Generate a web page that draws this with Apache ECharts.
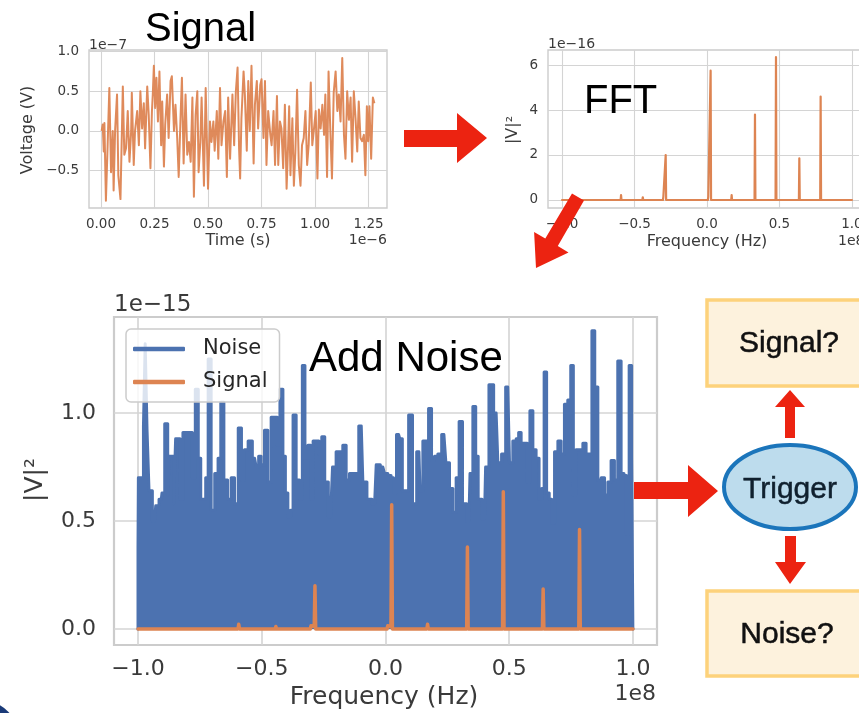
<!DOCTYPE html>
<html>
<head>
<meta charset="utf-8">
<script src="https://cdn.jsdelivr.net/npm/echarts@6/dist/echarts.min.js"></script>
<style>
html,body{margin:0;padding:0;background:#fff;}
#c{width:859px;height:713px;}
</style>
</head>
<body>
<div id="c"></div>
<script>
// ---- Time-domain signal (t in 1e-6 s, V in 1e-7 V) ----
const sigTime = [0.003,0.008,0.013,0.016,0.023,0.031,0.039,0.047,0.055,0.059,0.066,0.075,0.081,0.091,0.102,0.109,0.117,0.125,0.133,0.141,0.144,0.153,0.159,0.169,0.177,0.184,0.192,0.200,0.206,0.216,0.223,0.231,0.238,0.242,0.247,0.253,0.259,0.266,0.273,0.281,0.286,0.294,0.300,0.309,0.316,0.325,0.331,0.341,0.348,0.356,0.363,0.372,0.378,0.386,
0.395,0.403,0.411,0.419,0.427,0.434,0.442,0.450,0.456,0.464,0.470,0.481,0.489,0.500,0.509,0.516,0.525,0.531,0.541,0.548,0.556,0.563,0.572,0.580,0.588,0.594,0.603,0.614,0.622,0.630,0.638,0.645,0.650,0.656,0.666,0.672,0.681,0.688,0.695,0.703,0.713,0.719,0.728,0.734,0.744,0.750,0.759,0.766,0.773,0.781,0.791,0.797,0.806,0.813,0.822,
0.828,0.836,0.843,0.851,0.859,0.867,0.874,0.879,0.885,0.894,0.901,0.908,0.916,0.924,0.932,0.939,0.947,0.955,0.963,0.970,0.980,0.987,0.995,1.003,1.011,1.018,1.026,1.034,1.042,1.048,1.056,1.063,1.071,1.079,1.087,1.096,1.104,1.111,1.119,1.127,1.135,1.142,1.150,1.158,1.166,1.173,1.181,1.189,1.197,1.204,1.212,1.220,1.228,1.235,1.242,1.248,1.254,1.262,1.270,1.277];
const sigVolt = [0,0.08,-0.26,0.10,-0.88,-0.18,0.54,-0.52,0,-0.75,0.01,0.46,-0.56,-0.86,0.56,-0.30,-0.22,0.25,-0.39,0,0.48,-0.43,0,0.25,-0.18,0.50,0.03,0.35,-0.22,0.56,0.20,-0.47,0.25,0.46,0.82,0.29,0.67,0.12,0.75,-0.18,0.37,-0.45,0.08,0.46,-0.09,0.63,0.69,0,0.33,-0.09,-0.58,0.20,0.67,-0.41,
0.46,-0.30,-0.14,-0.39,0.42,-0.83,0.20,0.50,-0.52,-0.14,0.42,-0.69,0.54,-0.73,0.12,-0.14,0.12,-0.25,0.25,-0.35,0.54,-0.18,0.12,0.25,-0.58,0.42,-0.35,0.46,-0.18,0.50,0.80,-0.22,-0.60,0.16,0.75,0.46,-0.25,0.63,0,0.82,-0.41,0.33,0.63,0.03,0.58,0.65,-0.09,0.63,-0.43,0.25,-0.05,-0.18,0.25,-0.43,0.44,
-0.43,0.12,0.03,-0.47,0.33,-0.73,-0.18,0.31,-0.56,0.16,-0.69,-0.26,0.52,-0.43,-0.69,-0.18,-0.09,0.25,-0.43,-0.18,0.61,-0.18,0.03,0.25,-0.60,0.27,0.03,0.33,-0.05,0.46,-0.58,0.75,0.03,-0.60,0.48,0.75,0.25,0.46,0.12,0.92,-0.05,-0.35,0.50,0.14,0.42,-0.39,0.50,0.16,-0.26,0.37,-0.09,-0.13,-0.05,-0.56,0.31,-0.13,0.31,-0.35,0.42,0.35];

// ---- FFT of signal (freq in 1e8 Hz, |V|^2 in 1e-16) ----
const fftFreq = [-1.0,-0.753,-0.75,-0.747,-0.596,-0.593,-0.590,-0.446,-0.443,-0.440,-0.304,-0.301,-0.293,-0.288,-0.285,-0.282,-0.143,-0.14,-0.137,0.006,0.009,0.017,0.022,0.025,0.028,0.167,0.17,0.173,0.328,0.331,0.334,0.473,0.476,0.479,0.634,0.637,0.640,0.781,0.784,0.787,0.857,0.86,0.863,1.0];
const fftPower = [0,0,0.05,0,0,0.22,0,0,0.12,0,0,0.15,0.12,0.12,2.0,0,0,0.08,0,0,0.15,0.10,0.10,5.75,0,0,0.22,0,0,3.8,0,0,6.35,0,0,1.85,0,0,4.6,0,0,0.03,0,0];

// ---- Noise spectrum upper envelope (freq in 1e8 Hz, |V|^2 in 1e-15) ----
const noiseFreq = [-1.0,-1.0,-0.997,-0.981,-0.975,-0.967,-0.960,-0.951,-0.933,-0.924,-0.906,-0.900,-0.884,-0.876,-0.870,-0.859,-0.853,-0.843,-0.835,-0.825,-0.812,-0.799,-0.785,-0.776,-0.761,-0.752,-0.741,-0.731,-0.722,-0.711,-0.698,-0.682,-0.671,-0.660,-0.646,-0.630,-0.617,-0.603,-0.587,-0.577,-0.563,-0.547,-0.529,-0.516,
-0.509,-0.496,-0.482,-0.469,-0.455,-0.442,-0.432,-0.421,-0.408,-0.401,-0.388,-0.379,-0.368,-0.354,-0.341,-0.331,-0.320,-0.307,-0.298,-0.287,-0.274,-0.264,-0.251,-0.240,-0.222,-0.206,-0.193,-0.179,-0.166,-0.152,-0.139,-0.118,-0.098,-0.085,-0.065,-0.044,-0.031,-0.011,
0.003,0.016,0.029,0.036,0.053,0.063,0.073,0.086,0.101,0.117,0.135,0.144,0.158,0.167,0.181,0.191,0.205,0.218,0.236,0.252,0.265,0.279,0.292,0.303,0.319,0.337,0.346,0.360,0.369,0.380,0.400,0.409,0.427,0.447,0.461,0.477,0.494,
0.508,0.521,0.535,0.541,0.555,0.568,0.578,0.589,0.602,0.615,0.626,0.636,0.646,0.656,0.667,0.676,0.690,0.703,0.716,0.730,0.743,0.754,0.764,0.775,0.791,0.804,0.817,0.828,0.840,0.851,0.865,0.878,0.892,0.905,0.918,0.932,0.945,0.959,0.968,0.979,0.990,0.999,1.0];
const noisePower = [0,0.38,0.70,0.70,0.94,1.32,0.92,0.64,0.50,0.57,0.60,0.63,0.95,0.62,0.80,0.80,0.58,0.88,0.88,0.60,0.91,0.91,0.91,0.70,1.11,0.79,0.60,0.60,0.70,1.25,0.55,0.72,0.79,1.05,0.69,0.60,0.70,0.58,0.93,0.69,0.83,0.87,0.79,0.75,
0.80,0.76,0.92,0.68,0.98,0.98,0.85,1.11,0.80,0.63,0.52,0.55,0.99,0.69,0.60,1.22,0.79,0.85,0.60,0.87,0.87,0.81,0.89,0.68,0.52,0.75,0.82,0.82,0.85,0.69,0.72,0.72,0.94,0.68,0.60,0.58,0.76,0.75,
0.72,0.71,0.70,0.63,0.90,0.88,0.64,0.64,0.99,0.58,0.82,0.64,0.87,0.87,1.02,0.78,0.80,0.81,0.90,0.77,0.65,0.54,0.70,0.96,0.58,0.50,0.72,1.03,0.80,0.60,0.51,0.75,1.13,1.00,0.77,0.81,1.12,
0.77,0.87,0.88,0.91,0.86,0.86,0.68,1.01,0.83,0.79,0.60,0.65,1.19,0.63,0.60,0.49,0.82,0.87,0.81,1.04,1.06,1.22,0.62,0.83,0.83,0.86,0.81,0.81,1.38,1.12,0.69,0.70,0.62,0.68,0.78,0.69,1.24,0.72,0.71,0.44,1.22,0.80,0];

// ---- Tick values ----
const sigTicksX = [0, 0.25, 0.5, 0.75, 1.0, 1.25];
const sigTicksY = [-0.5, 0, 0.5, 1.0];
const freqTicks = [-1.0, -0.5, 0, 0.5, 1.0];
const fftTicksY = [0, 2, 4, 6];
const bigTicksY = [0, 0.5, 1.0];

const BLUE = '#4c72b0', ORANGE = '#dd8452', RED = '#ec2311';
const GRIDC = '#d4d4d4', TXT = '#3a3a3a', FONT = 'DejaVu Sans';
const HELV = '"Liberation Sans", Arial, sans-serif';

const fmt = d => v => (v < 0 ? '\u2212' + (-v).toFixed(d) : v.toFixed(d));

function ax(gi, min, max, ticks, dec, fs, margin) {
  return {
    type: 'value', gridIndex: gi, min: min, max: max,
    axisLine: {show: false},
    axisTick: {show: false, customValues: ticks},
    axisLabel: {customValues: ticks, formatter: fmt(dec), color: TXT, fontFamily: FONT, fontSize: fs, margin: margin},
    splitLine: {show: true, lineStyle: {color: GRIDC, width: gi === 2 ? 1.6 : 1.1}}
  };
}

function txt(x, y, s, size, opts) {
  opts = opts || {};
  const st = {
    text: s, fontSize: size, fontFamily: opts.font || FONT, fill: opts.color || TXT,
    align: opts.align || 'center', verticalAlign: opts.va || 'middle'
  };
  if (opts.bolden) { st.stroke = opts.color; st.lineWidth = opts.bolden; }
  return {type: 'text', x: x, y: y, rotation: opts.rot || 0, z: 120, style: st};
}
function poly(points) {
  return {type: 'polygon', z: 130, shape: {points: points}, style: {fill: RED}};
}

const chart = echarts.init(document.getElementById('c'), null, {renderer: 'canvas'});
const option = {
  animation: false,
  backgroundColor: '#ffffff',
  grid: [
    {left: 89, top: 50, width: 298, height: 158, show: true, borderColor: '#cccccc', borderWidth: 1.4, containLabel: false, outerBoundsMode: 'none'},
    {left: 548, top: 50, width: 318, height: 158, show: true, borderColor: '#cccccc', borderWidth: 1.4, containLabel: false, outerBoundsMode: 'none'},
    {left: 114, top: 317, width: 543, height: 328, show: true, borderColor: '#cccccc', borderWidth: 2.2, containLabel: false, outerBoundsMode: 'none'}
  ],
  xAxis: [
    ax(0, -0.056, 1.336, sigTicksX, 2, 13.5, 9),
    ax(1, -1.097, 1.097, freqTicks, 1, 13.5, 9),
    ax(2, -1.097, 1.097, freqTicks, 1, 22, 13)
  ],
  yAxis: [
    ax(0, -0.972, 1.02, sigTicksY, 1, 13.5, 10),
    ax(1, -0.356, 6.667, fftTicksY, 0, 13.5, 10),
    ax(2, -0.074, 1.444, bigTicksY, 1, 22, 18)
  ],
  legend: {
    data: ['Noise', 'Signal'], orient: 'vertical', left: 126, top: 329,
    padding: [8, 12, 8, 7], itemGap: 9, itemWidth: 52, itemHeight: 4.5, icon: 'roundRect',
    backgroundColor: 'rgba(255,255,255,0.8)', borderColor: '#cccccc', borderWidth: 1.5, borderRadius: 5,
    textStyle: {fontFamily: FONT, fontSize: 21, color: '#262626', lineHeight: 24, padding: [0, 0, 0, 13]}
  },
  series: [
    {
      name: 'Time signal', type: 'line', xAxisIndex: 0, yAxisIndex: 0, showSymbol: false,
      lineStyle: {color: ORANGE, width: 2, opacity: 0.95, join: 'round'}, itemStyle: {color: ORANGE},
      data: sigTime.map((t, i) => [t, sigVolt[i]]), z: 3
    },
    {
      name: 'FFT', type: 'line', xAxisIndex: 1, yAxisIndex: 1, showSymbol: false,
      lineStyle: {color: ORANGE, width: 2.2, join: 'round', cap: 'round'}, itemStyle: {color: ORANGE},
      data: fftFreq.map((f, i) => [f, fftPower[i]]), z: 3
    },
    {
      name: 'Noise', type: 'line', step: 'middle', xAxisIndex: 2, yAxisIndex: 2, showSymbol: false,
      lineStyle: {color: BLUE, width: 3, join: 'round', cap: 'round'}, itemStyle: {color: BLUE},
      areaStyle: {color: BLUE, opacity: 1},
      data: noiseFreq.map((f, i) => [f, noisePower[i]]), z: 2
    },
    {
      name: 'Signal', type: 'line', xAxisIndex: 2, yAxisIndex: 2, showSymbol: false,
      lineStyle: {color: ORANGE, width: 3.5, join: 'round', cap: 'round'}, itemStyle: {color: ORANGE},
      // same spectrum as FFT panel, converted from 1e-16 to 1e-15 units
      data: fftFreq.map((f, i) => [f, fftPower[i] / 10]), z: 3
    }
  ],
  graphic: [
    txt(28, 130, 'Voltage (V)', 16, {rot: Math.PI / 2}),
    txt(238, 241, 'Time (s)', 16),
    txt(89, 45, '1e\u22127', 14, {align: 'left'}),
    txt(387, 240, '1e\u22126', 14, {align: 'right'}),
    txt(513, 130, '|V|\u00b2', 16, {rot: Math.PI / 2}),
    txt(707, 242, 'Frequency (Hz)', 16),
    txt(548, 44, '1e\u221216', 14, {align: 'left'}),
    txt(838, 241, '1e8', 14, {align: 'left'}),
    txt(35, 480, '|V|\u00b2', 25, {rot: Math.PI / 2}),
    txt(384, 697, 'Frequency (Hz)', 25),
    txt(114, 305, '1e\u221215', 23, {align: 'left'}),
    txt(656, 694, '1e8', 22, {align: 'right'}),
    txt(145, 30, 'Signal', 40, {align: 'left', font: HELV, color: '#000'}),
    txt(584, 102, 'FFT', 40, {align: 'left', font: HELV, color: '#000'}),
    txt(309, 359, 'Add Noise', 42, {align: 'left', font: HELV, color: '#000'}),
    poly([[404, 130], [457, 130], [457, 113], [487, 138], [457, 163], [457, 147], [404, 147]]),
    poly([[584, 200.5], [557.8, 246], [568.5, 252.4], [536, 268], [534.1, 232], [545.3, 238.6], [572, 193.5]]),
    poly([[634, 482], [688, 482], [688, 465], [718, 491], [688, 517], [688, 499], [634, 499]]),
    poly([[790, 390], [805, 407], [795, 407], [795, 438], [785, 438], [785, 407], [775, 407]]),
    poly([[785, 536], [796, 536], [796, 562], [806, 562], [790, 584], [775, 562], [785, 562]]),
    {type: 'rect', z: 110, shape: {x: 707, y: 300, width: 160, height: 86}, style: {fill: '#fdf2dd', stroke: '#fdd27b', lineWidth: 3.5}},
    {type: 'rect', z: 110, shape: {x: 707, y: 591, width: 160, height: 85}, style: {fill: '#fdf2dd', stroke: '#fdd27b', lineWidth: 3.5}},
    txt(789, 344, 'Signal?', 30, {font: HELV, color: '#111111', bolden: 0.5}),
    txt(787, 635, 'Noise?', 30, {font: HELV, color: '#111111', bolden: 0.5}),
    {type: 'ellipse', z: 110, shape: {cx: 790, cy: 487, rx: 66, ry: 42}, style: {fill: '#bddced', stroke: '#1b75bb', lineWidth: 4}},
    txt(790, 490, 'Trigger', 30, {font: HELV, color: '#10202e', bolden: 0.5}),
    {type: 'circle', z: 100, shape: {cx: -20, cy: 740, r: 40}, style: {fill: '#1a3a78'}}
  ]
};
chart.setOption(option);
</script>
</body>
</html>
